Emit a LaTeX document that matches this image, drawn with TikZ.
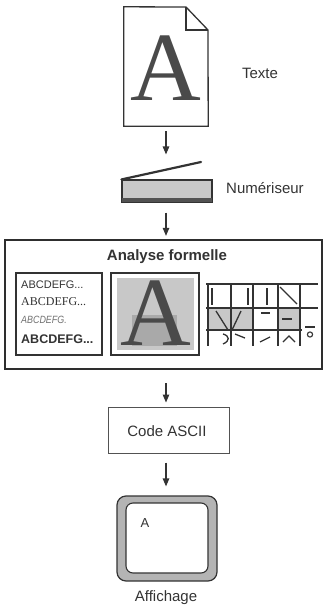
\documentclass[tikz,border=0pt]{standalone}
\usepackage{fontspec}
\setmainfont{Liberation Sans}
\newfontfamily\seriffont{Liberation Serif}
\usetikzlibrary{arrows.meta}
\definecolor{ink}{HTML}{333333}
\definecolor{glyph}{HTML}{4A4A4A}
\definecolor{lightfill}{HTML}{C8C8C8}
\definecolor{midfill}{HTML}{A9A9A9}
\definecolor{bandfill}{HTML}{B4B4B4}
\tikzset{
  flow/.style={draw=ink, line width=1.2pt, -{Triangle[length=8pt,width=6.5pt]}},
  caption/.style={text=ink, font=\fontsize{15}{18}\selectfont, inner sep=0pt},
  box/.style={draw=ink, line width=1.1pt, inner sep=0pt},
  cellstroke/.style={draw=ink, line width=1.3pt},
  gridline/.style={draw=ink, line width=1.1pt},
}
\begin{document}
\begin{tikzpicture}[x=1pt, y=-1pt]
\useasboundingbox (0,0) rectangle (323,605);

% document page with folded corner
\node[inner sep=0pt, minimum width=84pt, minimum height=119pt] (page) at (166,66.5) {};
\draw[ink, line width=1.3pt, line join=miter]
  (page.south west) -- (page.north west) -- (186,7) -- (208,30) -- (page.south east) -- cycle;
\draw[ink, line width=1.1pt] (186,7) -- (186,30) -- (208,30);
\node[anchor=base, text=glyph, inner sep=0pt, font=\seriffont\fontsize{98}{98}\selectfont] (pageA) at (166,100) {A};
\node[caption] (texte) at (260,73) {Texte};

% scanner
\node[box, fill=lightfill, minimum width=90pt, minimum height=22pt] (scanner) at (167,191) {};
\fill[ink!85] (122,198) rectangle (212,202);
\draw[ink, line width=2.2pt, line cap=round] (scanner.north west) -- (201,162);
\node[caption, anchor=west] (numeriseur) at (226,188) {Numériseur};

% shape analysis panel
\node[draw=ink!90!black, line width=2.3pt, minimum width=317pt, minimum height=129pt, inner sep=0pt] (analyse) at (163.5,304.5) {};
\node[caption, font=\bfseries\fontsize{15}{18}\selectfont] (titre) at (167,257) {Analyse formelle};

% font samples
\node[box, minimum width=86pt, minimum height=82pt] (fonts) at (59,314) {};
\node[anchor=west, text=ink, inner sep=0pt, font=\fontsize{11}{11}\selectfont] (f1) at (21,285) {ABCDEFG...};
\node[anchor=west, text=ink, inner sep=0pt, font=\seriffont\fontsize{12}{12}\selectfont] (f2) at (21,302) {ABCDEFG...};
\node[anchor=west, text=ink!70, inner sep=0pt, xscale=0.85, font=\itshape\fontsize{10.5}{10.5}\selectfont] (f3) at (21,320) {ABCDEFG.};
\node[anchor=west, text=ink, inner sep=0pt, font=\bfseries\fontsize{12.5}{12.5}\selectfont] (f4) at (21,339) {ABCDEFG...};

% enlarged letter
\node[box, minimum width=88pt, minimum height=82pt] (letter) at (155,314) {};
\fill[lightfill] (117,278) rectangle (194,350);
\fill[midfill] (132,315) rectangle (177,346);
\node[anchor=base, text=glyph, inner sep=0pt, font=\seriffont\fontsize{98}{98}\selectfont] (bigA) at (156,345) {A};

% feature grid
\fill[lightfill] (208,308) rectangle (253,330);
\fill[lightfill] (278,308) rectangle (300,330);
\draw[gridline] (206,284) -- (318,284);
\draw[gridline] (206,308) -- (318,308);
\draw[gridline] (206,330) -- (302,330);
\foreach \gx in {208,231,253,278,300}
  \draw[gridline] (\gx,284) -- (\gx,346);
% strokes inside the cells
\draw[cellstroke] (212,288) -- (212,305);
\draw[cellstroke] (248,288) -- (248,305);
\draw[cellstroke] (267,288) -- (267,305);
\draw[cellstroke] (280,287) -- (297,304);
\draw[cellstroke] (216,311) -- (228,330);
\draw[cellstroke] (241,311) -- (232,330);
\draw[cellstroke] (261,313) -- (270,313);
\draw[cellstroke] (282,319) -- (292,319);
\draw[cellstroke] (305,327) -- (315,327);
\draw[ink, line width=1.1pt] (310,334.5) circle (2.6pt);
\draw[cellstroke] (223,334) .. controls (230,336) and (230,341) .. (223,344);
\draw[cellstroke] (235,334) -- (245,338);
\draw[cellstroke] (260,342) -- (270,337);
\draw[cellstroke] (283,342) -- (289,336) -- (295,342);

% ASCII code
\node[draw=ink!85, line width=1pt, minimum width=121pt, minimum height=46pt, inner sep=0pt] (code) at (168.5,430) {};
\node[caption] (codetext) at (167,431) {Code ASCII};

% display
\node[draw=ink, line width=1.2pt, fill=bandfill, rounded corners=9pt, minimum width=100pt, minimum height=85pt, inner sep=0pt] (display) at (167,538.5) {};
\node[draw=ink, line width=1.1pt, fill=white, rounded corners=7pt, minimum width=82pt, minimum height=70pt, inner sep=0pt] (screen) at (167,538) {};
\node[text=ink, inner sep=0pt, font=\fontsize{13}{13}\selectfont] (screenA) at (145,523) {A};
\node[caption] (affichage) at (166,598) {Affichage};

% flow arrows
\draw[flow, shorten <=5pt, shorten >=25pt] (page.south) -- (page.south |- scanner.north);
\draw[flow, shorten <=10pt, shorten >=3pt] (scanner.south -| page.south) -- (page.south |- analyse.north);
\draw[flow, shorten <=13pt, shorten >=4pt] (page.south |- analyse.south) -- (page.south |- code.north);
\draw[flow, shorten <=9pt, shorten >=9pt] (page.south |- code.south) -- (page.south |- display.north);
\end{tikzpicture}
\end{document}
